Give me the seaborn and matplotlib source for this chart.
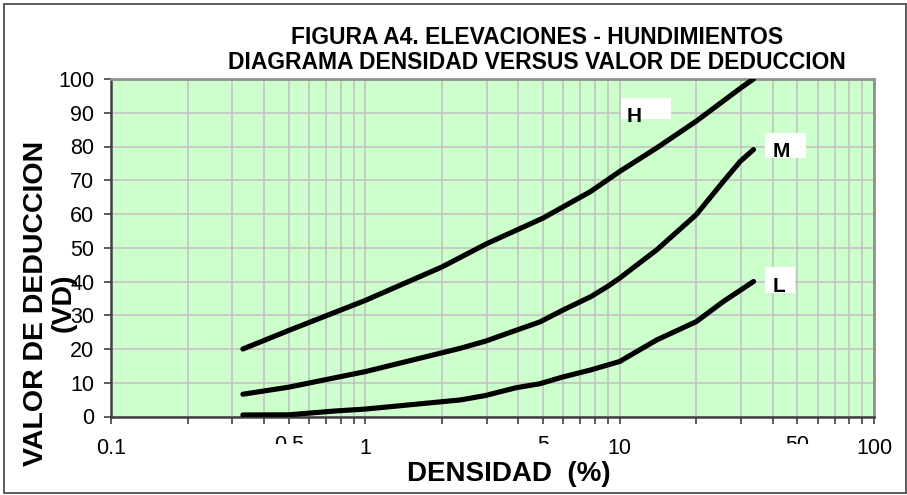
import numpy as np
import pandas as pd
import matplotlib
matplotlib.use("Agg")
import matplotlib.pyplot as plt
from matplotlib.patches import Rectangle
from matplotlib.transforms import Bbox
import seaborn as sns

# ---- data ----
h_x = [0.33, 0.5, 1.0, 2.0, 3.0, 5.0, 7.7, 10.0, 14.0, 20.0, 30.0, 33.6]
h_y = [20.0, 25.5, 34.4, 44.3, 51.2, 58.8, 66.7, 72.6, 79.6, 87.5, 97.4, 100.0]

m_x = [0.33, 0.5, 1.0, 2.36, 2.96, 3.9, 4.85, 5.97, 7.7, 8.95, 10.0, 14.0, 20.0, 25.6, 29.8, 33.6]
m_y = [6.6, 8.7, 13.3, 20.2, 22.3, 25.5, 28.0, 31.5, 35.5, 38.5, 41.0, 49.4, 59.8, 69.7, 75.6, 79.1]

l_x = [0.33, 0.5, 0.75, 1.0, 2.36, 2.96, 3.9, 4.85, 5.97, 7.7, 10.0, 14.0, 20.0, 25.6, 33.6]
l_y = [0.45, 0.5, 1.6, 2.2, 4.9, 6.2, 8.5, 9.7, 11.7, 13.8, 16.3, 22.7, 28.1, 34.1, 40.0]

series_names = ["H", "M", "L"]
x_ticks = [0.1, 0.5, 1, 5, 10, 50, 100]
x_ticklabels = ["0.1", "0.5", "1", "5", "10", "50", "100"]
y_ticks = list(range(0, 101, 10))

title_text = "FIGURA A4. ELEVACIONES - HUNDIMIENTOS\nDIAGRAMA DENSIDAD VERSUS VALOR DE DEDUCCION"
xlabel_text = "DENSIDAD  (%)"
ylabel_text = "VALOR DE DEDUCCION\n(VD)"

df = pd.concat([
    pd.DataFrame({"x": h_x, "y": h_y, "s": "H"}),
    pd.DataFrame({"x": m_x, "y": m_y, "s": "M"}),
    pd.DataFrame({"x": l_x, "y": l_y, "s": "L"}),
], ignore_index=True)

sns.set_style("white")
plt.rcParams["font.family"] = ["Liberation Sans", "DejaVu Sans"]
plt.rcParams["text.color"] = "black"
plt.rcParams["xtick.color"] = "black"
plt.rcParams["ytick.color"] = "black"
plt.rcParams["xtick.labelcolor"] = "black"
plt.rcParams["ytick.labelcolor"] = "black"

W, H = 907, 495
fig = plt.figure(figsize=(W / 100, H / 100), dpi=100)
ax = fig.add_axes([111 / W, 1 - 416.5 / H, (874 - 111) / W, (416.5 - 79) / H])
ax.set_facecolor("#CCFFCC")

sns.lineplot(data=df, x="x", y="y", hue="s", palette={n: "black" for n in series_names},
             sort=False, estimator=None, legend=False, lw=3.7, ax=ax,
             solid_capstyle="round", solid_joinstyle="round", zorder=3)

ax.set_xscale("log")
ax.set_xlim(0.1, 100)
ax.set_ylim(0, 100)
ax.set_xticks(x_ticks)
ax.set_xticklabels(x_ticklabels)
minor = [m * 10.0 ** e for e in (-1, 0, 1) for m in range(2, 10) if m != 5]
ax.set_xticks(minor, minor=True)
ax.xaxis.set_minor_formatter(matplotlib.ticker.NullFormatter())
ax.set_yticks(y_ticks)

ax.grid(True, which="both", color="#C0C0C0", lw=1.1, zorder=0)
ax.set_axisbelow(True)
ax.tick_params(axis="x", which="both", direction="out", length=5, width=1.2,
               color="#404040", pad=10.5, labelsize=15.5, bottom=True)
ax.tick_params(axis="y", which="major", direction="out", length=5, width=1.2,
               color="#404040", pad=7, labelsize=15.5, left=True)
ax.set_xlabel("")
ax.set_ylabel("")

for side in ["left", "bottom"]:
    ax.spines[side].set_color("#404040")
    ax.spines[side].set_linewidth(1.8)
for side in ["top", "right"]:
    ax.spines[side].set_color("#909090")
    ax.spines[side].set_linewidth(2.0)

# curve labels in white boxes
boxes = {
    "H": (0.668, 0.8815, 0.066, 0.063, 0.686, 0.8726),
    "M": (0.857, 0.766, 0.054, 0.074, 0.879, 0.769),
    "L": (0.857, 0.365, 0.039, 0.079, 0.875, 0.369),
}
for name in series_names:
    bx, by, bw, bh, tx, ty = boxes[name]
    rect = Rectangle((bx, by), bw, bh, transform=ax.transAxes, facecolor="white",
                     edgecolor="none", zorder=4)
    ax.add_patch(rect)
    t = ax.text(tx, ty, name, transform=ax.transAxes, ha="center", va="baseline",
                fontsize=15, fontweight="bold", zorder=5, color="black")
    t.set_clip_path(rect)

fig.text(537 / W, 1 - 50 / H, title_text, ha="center", va="center",
         fontsize=16.5, fontweight="bold", linespacing=1.1, color="black")
fig.text(509 / W, 1 - 474 / H, xlabel_text, ha="center", va="center",
         fontsize=20, fontweight="bold", color="black")
fig.text(50 / W, 1 - 303 / H, ylabel_text, ha="center", va="center", rotation=90,
         fontsize=20.5, fontweight="bold", linespacing=1.05, color="black")

# outer border
fig.patches.append(Rectangle((4 / W, 2 / H), 902 / W, 489 / H, transform=fig.transFigure,
                             facecolor="none", edgecolor="#404040", lw=1.2))

# half-hidden tick labels as in the reference
for lab in ax.get_xticklabels():
    if lab.get_text() in ("0.5", "5", "50"):
        lab.set_y(0.01)
        lab.set_clip_on(True)
        lab.set_clip_box(Bbox([[0, H - 443.5], [W, H]]))

fig.savefig("out.png", dpi=100)
